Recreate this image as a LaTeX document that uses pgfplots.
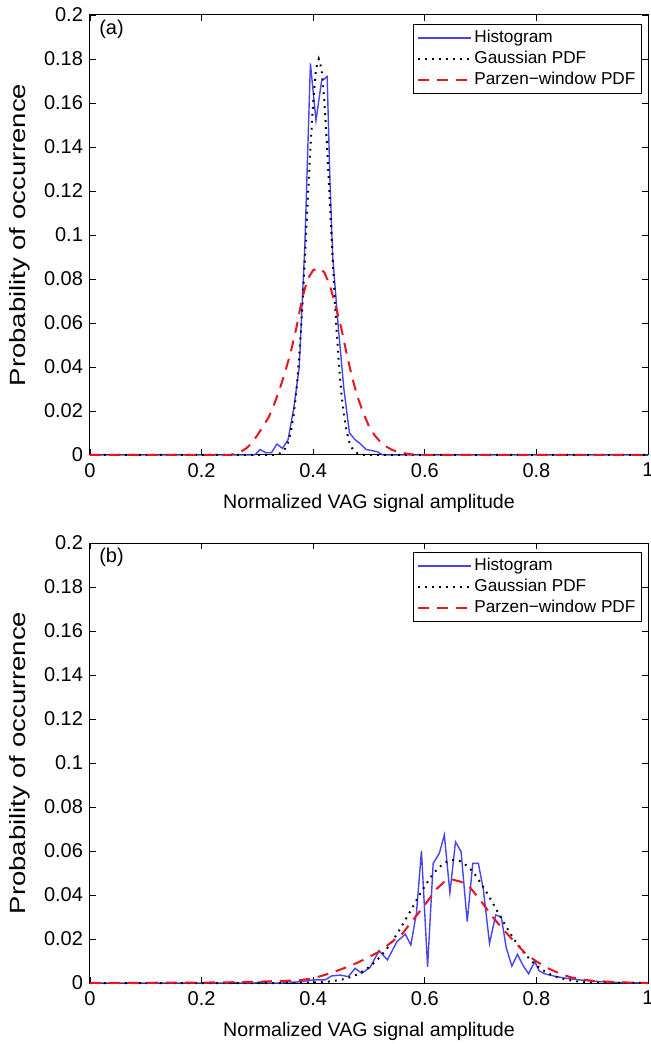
\documentclass[border=0pt]{standalone}
\usepackage{fontspec}
\setmainfont{Liberation Sans}
\usepackage{graphicx}
\usepackage{pgfplots}
\pgfplotsset{compat=1.18}

\definecolor{histblue}{RGB}{70,70,240}
\definecolor{parzred}{RGB}{232,20,30}
\newcommand{\fs}{\fontsize{8.6}{10}\selectfont}
\newcommand{\ft}{\fontsize{10}{12}\selectfont}
\newcommand{\fx}{\fontsize{9.8}{12}\selectfont}
\newcommand{\fy}{\fontsize{11}{13}\selectfont}

\pgfplotsset{
  vagpanel/.style={
    scale only axis, width=279pt, height=220pt,
    xmin=0, xmax=1, ymin=0, ymax=0.2,
    xtick={0,0.2,0.4,0.6,0.8,1},
    xticklabels={0,0.2,0.4,0.6,0.8,1},
    ytick={0,0.02,0.04,0.06,0.08,0.1,0.12,0.14,0.16,0.18,0.2},
    yticklabels={0,0.02,0.04,0.06,0.08,0.1,0.12,0.14,0.16,0.18,0.2},
    tick align=inside, major tick length=2.8pt,
    tick label style={font=\ft},
    xticklabel style={yshift=-0.5pt},
    axis line style={line width=0.5pt},
    every tick/.style={black, line width=0.4pt},
    xlabel={Normalized VAG signal amplitude},
    ylabel={\scalebox{1.25}[1]{Probability of occurrence}},
    xlabel style={font=\fx, at={(axis description cs:0.5,-0.109)}, anchor=center},
    ylabel style={font=\fy, at={(axis description cs:-0.1254,0.5)}, anchor=center},
    legend style={at={(0.989,0.98)}, anchor=north east, font=\fs,
      draw=black, line width=0.4pt, inner sep=1.8pt,
      nodes={inner sep=1.2pt}, row sep=0.3pt},
    legend cell align=left,
    legend image code/.code={\draw[#1] (0pt,0pt) -- (26.5pt,0pt);},
    clip=false,
  },
  histo/.style={draw=histblue, line width=0.7pt},
  gauss/.style={draw=black, line width=1pt, dash pattern=on 0.9pt off 2.6pt},
  parzen/.style={draw=parzred, line width=1pt, dash pattern=on 5.5pt off 4pt},
}

\begin{document}
\begin{tikzpicture}
\useasboundingbox (-45pt,-294.5pt) rectangle (280.5pt,227.5pt);

% panel (a)
\begin{axis}[vagpanel, name=a, at={(0,0)}, anchor=south west]
\addplot[histo] coordinates {
(0,0) (0.295,0) (0.305,0.0025) (0.315,0.001) (0.325,0.001) (0.335,0.005)
(0.345,0.003) (0.355,0.007) (0.365,0.021) (0.375,0.040) (0.385,0.095)
(0.395,0.178) (0.405,0.152) (0.415,0.170) (0.425,0.172) (0.430,0.125)
(0.435,0.090) (0.445,0.058) (0.455,0.030) (0.465,0.010) (0.475,0.007)
(0.485,0.005) (0.495,0.0025) (0.505,0.002) (0.515,0.0015) (0.525,0) (1,0)
};
\addlegendentry{Histogram}
\addplot[gauss] coordinates {
(0,0) (0.33,0.0001) (0.34,0.0007) (0.345,0.0015) (0.35,0.0030) (0.355,0.0058)
(0.36,0.0106) (0.365,0.0181) (0.37,0.0293) (0.375,0.0449) (0.38,0.0649)
(0.385,0.0886) (0.39,0.1144) (0.395,0.1395) (0.40,0.1607) (0.405,0.1755)
(0.41,0.180) (0.415,0.1755) (0.42,0.1607) (0.425,0.1395) (0.43,0.1144)
(0.435,0.0886) (0.44,0.0649) (0.445,0.0449) (0.45,0.0293) (0.455,0.0181)
(0.46,0.0106) (0.465,0.0058) (0.47,0.0030) (0.475,0.0015) (0.48,0.0007)
(0.49,0.0001) (1,0)
};
\addlegendentry{Gaussian PDF}
\addplot[parzen] coordinates {
(0,0) (0.25,0) (0.26,0.0005) (0.27,0.0015) (0.28,0.003) (0.29,0.0055)
(0.30,0.009) (0.31,0.013) (0.32,0.017) (0.33,0.023) (0.34,0.030)
(0.35,0.038) (0.36,0.047) (0.37,0.058) (0.38,0.071) (0.39,0.080)
(0.40,0.084) (0.41,0.085) (0.42,0.083) (0.43,0.077) (0.44,0.068)
(0.45,0.058) (0.46,0.046) (0.47,0.035) (0.48,0.026) (0.49,0.019)
(0.50,0.013) (0.51,0.009) (0.52,0.006) (0.53,0.004) (0.54,0.0025)
(0.55,0.0015) (0.56,0.001) (0.57,0.0005) (0.58,0.0002) (0.60,0) (1,0)
};
\addlegendentry{Parzen−window PDF}
\node[anchor=west, font=\ft] at (axis cs:0.004,0.1935) {(a)};
\end{axis}

% panel (b)
\begin{axis}[vagpanel, name=b, at={(0,-264pt)}, anchor=south west]
\addplot[histo] coordinates {
(0,0) (0.245,0) (0.255,0.0005) (0.265,0) (0.295,0) (0.305,0.0005) (0.315,0)
(0.345,0) (0.355,0.0006) (0.365,0.0003) (0.376,0.0006) (0.390,0.0010)
(0.400,0.0014) (0.421,0.0014) (0.433,0.0032) (0.448,0.0036) (0.463,0.0029)
(0.475,0.0067) (0.487,0.0044) (0.502,0.0071) (0.518,0.0147) (0.533,0.0105)
(0.550,0.0188) (0.565,0.0222) (0.575,0.0173) (0.585,0.0317) (0.594,0.0600)
(0.605,0.0074) (0.615,0.0544) (0.626,0.0589) (0.635,0.0673) (0.645,0.0410)
(0.655,0.0642) (0.665,0.0597) (0.676,0.0279) (0.686,0.0544) (0.696,0.0544)
(0.705,0.0423) (0.716,0.0180) (0.727,0.0309) (0.737,0.0301) (0.746,0.0160)
(0.756,0.0077) (0.766,0.0130) (0.776,0.0080) (0.786,0.0042) (0.797,0.0097)
(0.805,0.0055) (0.815,0.0042) (0.824,0.0036) (0.836,0.0029) (0.854,0.0021)
(0.878,0.0014) (0.914,0.0006) (0.95,0.0002) (1,0)
};
\addlegendentry{Histogram}
\addplot[gauss] coordinates {
(0,0) (0.352,0) (0.392,0.00014) (0.412,0.00033) (0.432,0.00076) (0.452,0.0016)
(0.462,0.0023) (0.472,0.0031) (0.482,0.0043) (0.492,0.0058) (0.502,0.0076)
(0.512,0.0098) (0.522,0.0125) (0.532,0.0156) (0.542,0.0191) (0.552,0.0230)
(0.562,0.0273) (0.572,0.0317) (0.582,0.0362) (0.592,0.0407) (0.602,0.0448)
(0.612,0.0486) (0.622,0.0517) (0.632,0.0540) (0.642,0.0555) (0.652,0.0560)
(0.662,0.0555) (0.672,0.0540) (0.682,0.0517) (0.692,0.0486) (0.702,0.0448)
(0.712,0.0407) (0.722,0.0362) (0.732,0.0317) (0.742,0.0273) (0.752,0.0230)
(0.762,0.0191) (0.772,0.0156) (0.782,0.0125) (0.792,0.0098) (0.802,0.0076)
(0.812,0.0058) (0.822,0.0043) (0.832,0.0031) (0.842,0.0023) (0.852,0.0016)
(0.872,0.00076) (0.892,0.00033) (0.912,0.00014) (0.952,0.00002) (1,0)
};
\addlegendentry{Gaussian PDF}
\addplot[parzen] coordinates {
(0,0) (0.2,0.0002) (0.25,0.0003) (0.30,0.0006) (0.35,0.0010) (0.38,0.0014)
(0.40,0.0022) (0.42,0.0036) (0.44,0.0053) (0.46,0.0072) (0.48,0.0093)
(0.50,0.0118) (0.52,0.0145) (0.54,0.0185) (0.56,0.0225) (0.58,0.029)
(0.60,0.0355) (0.62,0.0425) (0.635,0.0460) (0.65,0.0470) (0.665,0.0460)
(0.68,0.0438) (0.70,0.0375) (0.72,0.0305) (0.74,0.0245) (0.76,0.0190)
(0.78,0.0135) (0.80,0.0098) (0.82,0.0068) (0.84,0.0045) (0.86,0.0027)
(0.88,0.0017) (0.90,0.0010) (0.95,0.0003) (1,0)
};
\addlegendentry{Parzen−window PDF}
\node[anchor=west, font=\ft] at (axis cs:0.004,0.1935) {(b)};
\end{axis}
\end{tikzpicture}
\end{document}
